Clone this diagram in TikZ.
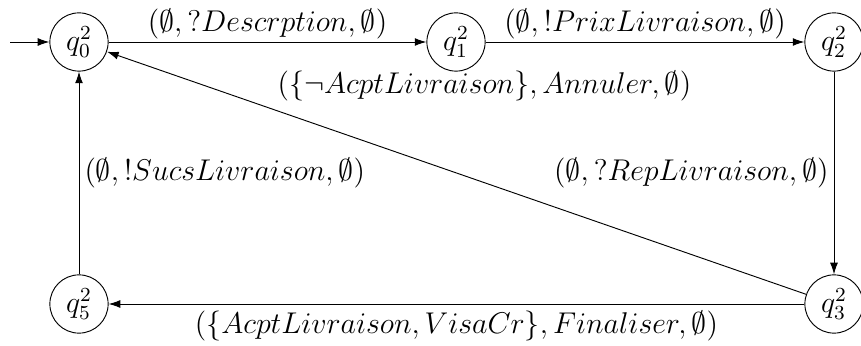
\documentclass[tikz,border=0pt]{standalone}
\usetikzlibrary{arrows.meta}
\begin{document}
\begin{tikzpicture}[x=0.43pt,y=-0.43pt,
  every node/.style={font=\large,scale=1.075,transform shape},
  state/.style={draw,circle,minimum size=23.3pt,inner sep=0pt},
  tr/.style={-{Latex[length=5pt,width=3.4pt]}},
  lbl/.style={inner sep=2pt}]
\useasboundingbox (0,0) rectangle (861,346);
\clip (0,0) rectangle (861,346);
\node[state] (q0) at (79,42) {$q_0^2$};
\node[state] (q1) at (456,42) {$q_1^2$};
\node[state] (q2) at (834,42) {$q_2^2$};
\node[state] (q3) at (834,304) {$q_3^2$};
\node[state] (q5) at (79,304) {$q_5^2$};
\coordinate (init) at (10,42);
\draw[tr] (init) -- (q0);
\draw[tr] (q0) -- node[lbl,above,inner sep=0.8pt]{$(\emptyset,?Descrption,\emptyset)$} (q1);
\draw[tr] (q1) -- node[lbl,above,inner sep=0.8pt]{$(\emptyset,!PrixLivraison,\emptyset)$} (q2);
\draw[tr] (q2) -- node[lbl,left]{$(\emptyset,?RepLivraison,\emptyset)$} (q3);
\draw[tr] (q3) -- node[lbl,below,yshift=-0.5pt]{$(\{AcptLivraison,VisaCr\},Finaliser,\emptyset)$} (q5);
\draw[tr] (q5) -- node[lbl,right]{$(\emptyset,!SucsLivraison,\emptyset)$} (q0);
\draw[tr] (q3) -- node[lbl,pos=0.46,yshift=90*0.43pt]{$(\{\neg AcptLivraison\},Annuler,\emptyset)$} (q0);
\end{tikzpicture}
\end{document}
